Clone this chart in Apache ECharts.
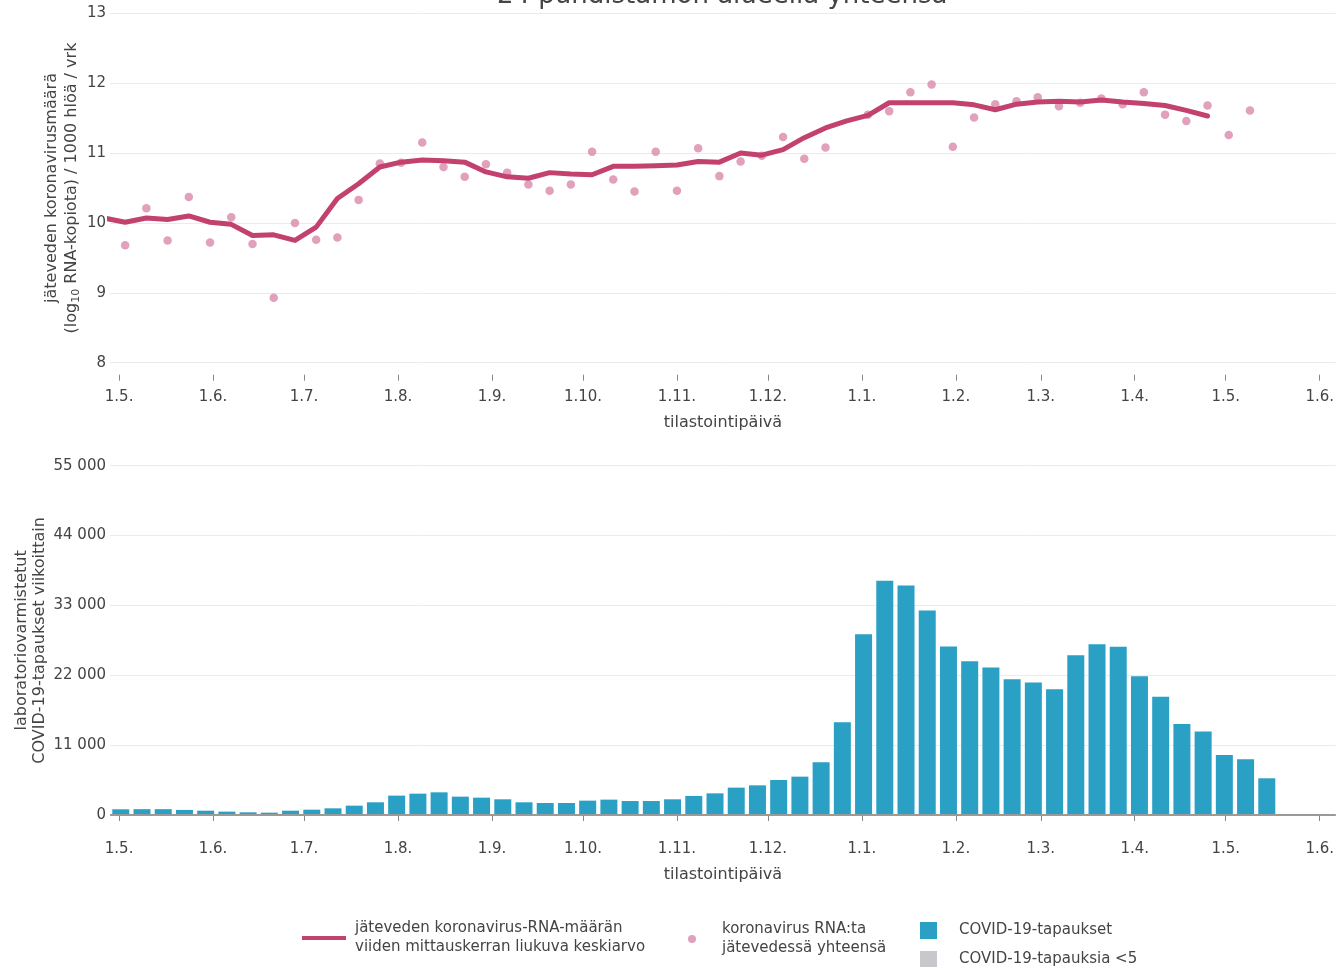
<!DOCTYPE html>
<html>
<head>
<meta charset="utf-8">
<script src="https://cdn.jsdelivr.net/npm/echarts@6/dist/echarts.min.js"></script>
<style>
html, body { margin: 0; background: #fff; }
#chart { width: 1337px; height: 967px; }
</style>
</head>
<body>
<div id="chart"></div>
<script>
// wastewater sampling weeks (mondays)
const sampleWeeks = [
  '2021-04-26', '2021-05-03', '2021-05-10', '2021-05-17', '2021-05-24', '2021-05-31',
  '2021-06-07', '2021-06-14', '2021-06-21', '2021-06-28', '2021-07-05', '2021-07-12',
  '2021-07-19', '2021-07-26', '2021-08-02', '2021-08-09', '2021-08-16', '2021-08-23',
  '2021-08-30', '2021-09-06', '2021-09-13', '2021-09-20', '2021-09-27', '2021-10-04',
  '2021-10-11', '2021-10-18', '2021-10-25', '2021-11-01', '2021-11-08', '2021-11-15',
  '2021-11-22', '2021-11-29', '2021-12-06', '2021-12-13', '2021-12-20', '2021-12-27',
  '2022-01-03', '2022-01-10', '2022-01-17', '2022-01-24', '2022-01-31', '2022-02-07',
  '2022-02-14', '2022-02-21', '2022-02-28', '2022-03-07', '2022-03-14', '2022-03-21',
  '2022-03-28', '2022-04-04', '2022-04-11', '2022-04-18', '2022-04-25', '2022-05-02',
  '2022-05-09'
];
const rnaValues = [
  null, 9.68, 10.21, 9.75, 10.37, 9.72,
  10.08, 9.70, 8.93, 10.00, 9.76, 9.79,
  10.33, 10.85, 10.86, 11.15, 10.80, 10.66,
  10.84, 10.72, 10.55, 10.46, 10.55, 11.02,
  10.62, 10.45, 11.02, 10.46, 11.07, 10.67,
  10.88, 10.96, 11.23, 10.92, 11.08, null,
  11.55, 11.60, 11.87, 11.98, 11.09, 11.51,
  11.70, 11.74, 11.80, 11.67, 11.72, 11.78,
  11.70, 11.87, 11.55, 11.46, 11.68, 11.26,
  11.61
];
const avgValues = [
  10.07, 10.01, 10.07, 10.05, 10.10, 10.01,
  9.98, 9.82, 9.83, 9.75, 9.94, 10.35,
  10.56, 10.80, 10.87, 10.90, 10.89, 10.87,
  10.73, 10.66, 10.64, 10.72, 10.70, 10.69,
  10.81, 10.81, 10.82, 10.83, 10.88, 10.87,
  11.00, 10.97, 11.05, 11.22, 11.36, 11.46,
  11.54, 11.72, 11.72, 11.72, 11.72, 11.69,
  11.62, 11.70, 11.73, 11.74, 11.73, 11.76,
  11.73, 11.71, 11.68, 11.61, 11.53, null,
  null
];

// weekly confirmed cases
const caseWeeks = [
  '2021-05-02', '2021-05-09', '2021-05-16', '2021-05-23', '2021-05-30', '2021-06-06',
  '2021-06-13', '2021-06-20', '2021-06-27', '2021-07-04', '2021-07-11', '2021-07-18',
  '2021-07-25', '2021-08-01', '2021-08-08', '2021-08-15', '2021-08-22', '2021-08-29',
  '2021-09-05', '2021-09-12', '2021-09-19', '2021-09-26', '2021-10-03', '2021-10-10',
  '2021-10-17', '2021-10-24', '2021-10-31', '2021-11-07', '2021-11-14', '2021-11-21',
  '2021-11-28', '2021-12-05', '2021-12-12', '2021-12-19', '2021-12-26', '2022-01-02',
  '2022-01-09', '2022-01-16', '2022-01-23', '2022-01-30', '2022-02-06', '2022-02-13',
  '2022-02-20', '2022-02-27', '2022-03-06', '2022-03-13', '2022-03-20', '2022-03-27',
  '2022-04-03', '2022-04-10', '2022-04-17', '2022-04-24', '2022-05-01', '2022-05-08',
  '2022-05-15'
];
const caseValues = [
  900, 920, 920, 800, 680, 530,
  420, 370, 680, 840, 1050, 1470,
  2000, 3050, 3360, 3570, 2890, 2730,
  2470, 2000, 1890, 1890, 2260, 2420,
  2200, 2200, 2470, 3000, 3410, 4310,
  4670, 5510, 6040, 8300, 14600, 28470,
  36870, 36140, 32200, 26530, 24210, 23220,
  21380, 20850, 19800, 25160, 26900, 26480,
  21860, 18600, 14340, 13130, 9460, 8770,
  5780
];

const monthTicks = [
  '2021-05-01', '2021-06-01', '2021-07-01', '2021-08-01', '2021-09-01', '2021-10-01',
  '2021-11-01', '2021-12-01', '2022-01-01', '2022-02-01', '2022-03-01', '2022-04-01',
  '2022-05-01', '2022-06-01'
];

const lineName = 'jäteveden koronavirus-RNA-määrän\nviiden mittauskerran liukuva keskiarvo';
const dotName = 'koronavirus RNA:ta\njätevedessä yhteensä';
const barName = 'COVID-19-tapaukset';
const greyName = 'COVID-19-tapauksia <5';

const FONT = 'DejaVu Sans';
const TXT = '#444';
const ts = s => +echarts.time.parse(s);
const tickTs = monthTicks.map(ts);
const xMin = ts('2021-04-28');
const xMax = ts('2022-06-06') + 8 * 3600 * 1000;

// dates become timestamps on a plain value axis, so month ticks can be placed exactly
const pair = (dates, vals) => dates.map((d, i) => [ts(d), vals[i]]).filter(p => p[1] != null);

function xAxisFor(gridIndex) {
    return {
        type: 'value',
        gridIndex: gridIndex,
        min: xMin,
        max: xMax,
        offset: 12,
        // line kept invisible, only the ticks below the plot are wanted
        axisLine: { show: true, lineStyle: { color: '#888', opacity: 0 } },
        axisTick: { show: true, customValues: tickTs, length: 6, lineStyle: { color: '#888', opacity: 1, width: 1 } },
        axisLabel: {
            customValues: tickTs,
            margin: 15,
            fontSize: 15,
            fontFamily: FONT,
            color: TXT,
            formatter: v => {
                const d = new Date(v);
                return d.getDate() + '.' + (d.getMonth() + 1) + '.';
            }
        },
        splitLine: { show: false },
        name: 'tilastointipäivä',
        nameLocation: 'middle',
        nameGap: 40,
        nameTextStyle: { fontSize: 16, fontFamily: FONT, color: TXT }
    };
}

function legendFor(name, left, top, icon, w, h, pad) {
    return {
        data: [name],
        left: left,
        top: top,
        padding: 0,
        icon: icon,
        itemWidth: w,
        itemHeight: h,
        selectedMode: false,
        textStyle: { fontSize: 15, fontFamily: FONT, color: TXT, lineHeight: 19, padding: [0, 0, 0, pad] }
    };
}

const chart = echarts.init(document.getElementById('chart'), null, { renderer: 'canvas' });

chart.setOption({
    animation: false,
    backgroundColor: '#fff',
    title: {
        text: '24 puhdistamon alueella yhteensä',
        left: 497,
        top: -17,
        padding: 0,
        textStyle: { fontSize: 26, fontWeight: 'normal', fontFamily: FONT, color: TXT }
    },
    grid: [
        { left: 110, right: 0, top: 13.3, height: 349.4 },
        { left: 110, right: 0, top: 465.7, height: 349.3 }
    ],
    legend: [
        legendFor(lineName, 302, 919, 'rect', 44, 4, 4),
        legendFor(dotName, 688, 920, 'circle', 8, 8, 21),
        legendFor(barName, 920, 921, 'rect', 17, 17, 17),
        legendFor(greyName, 920, 950, 'rect', 17, 17, 17)
    ],
    xAxis: [xAxisFor(0), xAxisFor(1)],
    yAxis: [
        {
            type: 'value',
            gridIndex: 0,
            min: 8,
            max: 13,
            interval: 1,
            axisLine: { show: false },
            axisTick: { show: false },
            axisLabel: { margin: 4, fontSize: 15, fontFamily: FONT, color: TXT },
            splitLine: { lineStyle: { color: '#ebebeb' } },
            name: 'jäteveden koronavirusmäärä\n(log{sub|10} RNA-kopiota) / 1000 hlöä / vrk',
            nameLocation: 'middle',
            nameRotate: 90,
            nameGap: 28,
            nameMoveOverlap: false,
            nameTextStyle: {
                fontSize: 16, fontFamily: FONT, color: TXT, lineHeight: 20,
                rich: { sub: { fontSize: 11, fontFamily: FONT, color: TXT, padding: [9, 0, 0, 0] } }
            }
        },
        {
            type: 'value',
            gridIndex: 1,
            min: 0,
            max: 55000,
            interval: 11000,
            axisLine: { show: false },
            axisTick: { show: false },
            axisLabel: {
                margin: 4, fontSize: 15, fontFamily: FONT, color: TXT,
                formatter: v => v === 0 ? '0' : (v / 1000) + ' 000'
            },
            splitLine: { lineStyle: { color: '#ebebeb' } },
            name: 'laboratoriovarmistetut\nCOVID-19-tapaukset viikoittain',
            nameLocation: 'middle',
            nameRotate: 90,
            nameGap: 61,
            nameMoveOverlap: false,
            nameTextStyle: { fontSize: 16, fontFamily: FONT, color: TXT, lineHeight: 18 }
        }
    ],
    series: [
        {
            name: dotName,
            type: 'scatter',
            xAxisIndex: 0,
            yAxisIndex: 0,
            data: pair(sampleWeeks, rnaValues),
            symbolSize: 8.5,
            itemStyle: { color: '#da88aa' },
            z: 2
        },
        {
            name: lineName,
            type: 'line',
            xAxisIndex: 0,
            yAxisIndex: 0,
            data: pair(sampleWeeks, avgValues),
            showSymbol: false,
            color: '#c2416e',
            lineStyle: { width: 5, color: '#c2416e', cap: 'round', join: 'round' },
            z: 3
        },
        {
            name: barName,
            type: 'bar',
            xAxisIndex: 1,
            yAxisIndex: 1,
            data: pair(caseWeeks, caseValues),
            barWidth: 17,
            itemStyle: { color: '#2aa0c4' },
            markLine: {
                silent: true,
                symbol: ['none', 'none'],
                label: { show: false },
                lineStyle: { color: '#9a9a9a', width: 2, type: 'solid' },
                data: [{ yAxis: 0 }]
            }
        },
        {
            name: greyName,
            type: 'bar',
            xAxisIndex: 1,
            yAxisIndex: 1,
            data: [],
            itemStyle: { color: '#c8c8cc' }
        }
    ]
});
</script>
</body>
</html>
